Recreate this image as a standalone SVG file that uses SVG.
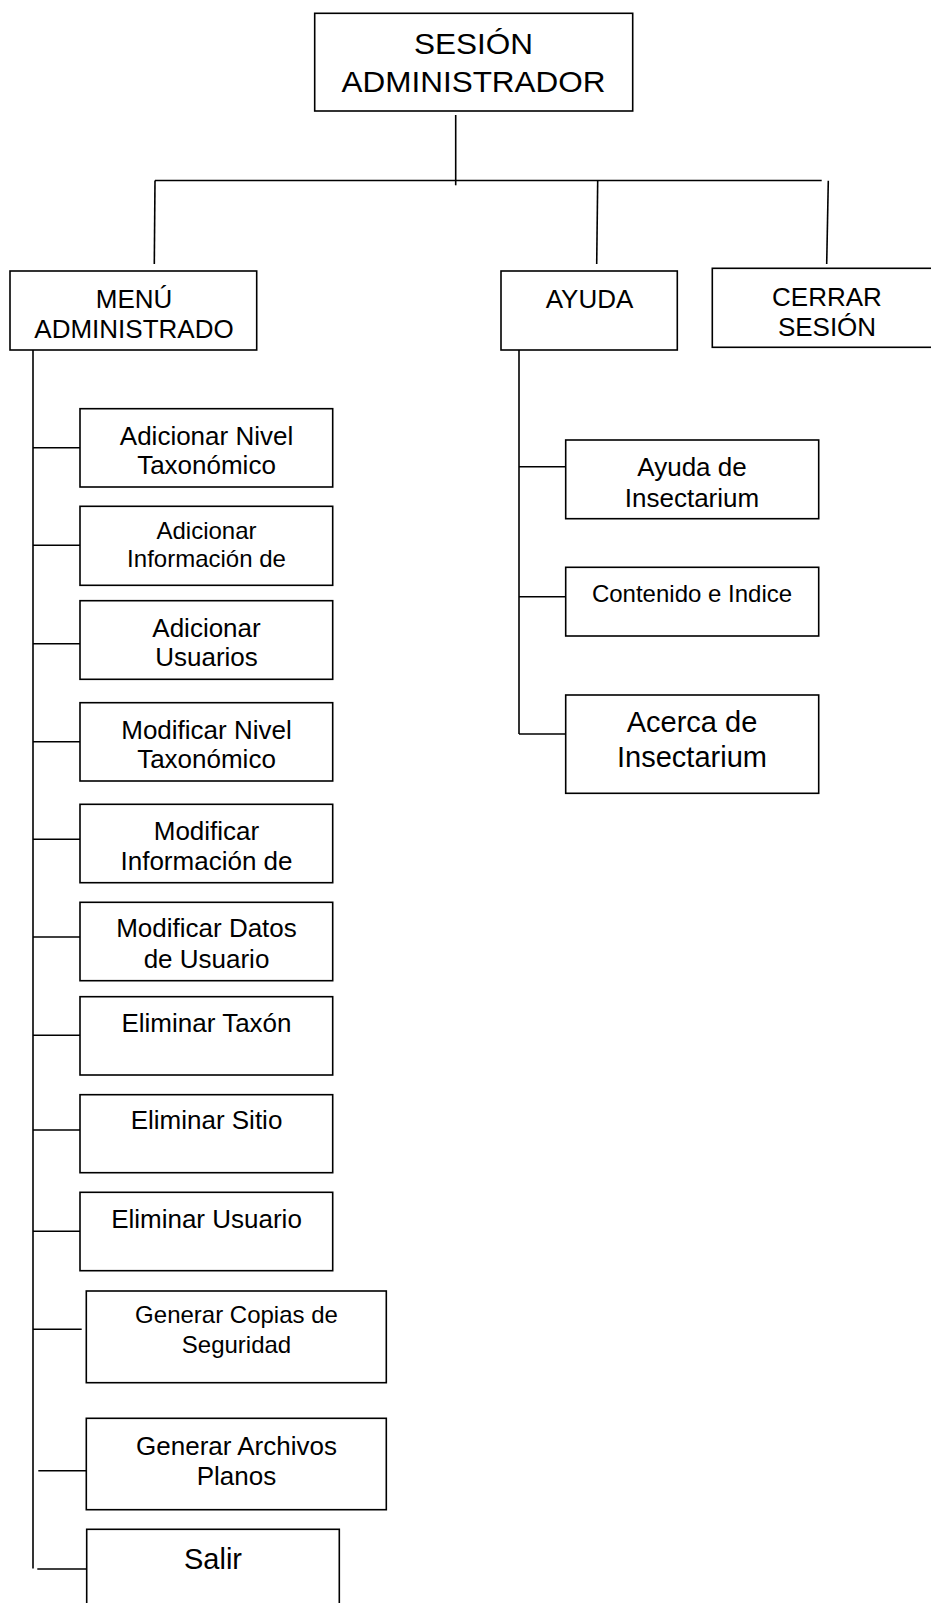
<svg xmlns="http://www.w3.org/2000/svg" width="931" height="1603" viewBox="0 0 931 1603">
  <style>
    .box { fill: #ffffff; stroke: #000000; stroke-width: 1.6; }
    .wire { fill: none; stroke: #000000; stroke-width: 1.6; }
    text { font-family: "Liberation Sans", Arial, sans-serif; fill: #000000; text-anchor: middle; }
    .t30 { font-size: 30px; }
    .t29 { font-size: 29px; }
    .t26 { font-size: 26px; }
    .t24 { font-size: 24px; }
  </style>
  <rect x="0" y="0" width="931" height="1603" fill="#ffffff"/>

  <!-- connectors -->
  <g id="connectors" class="wire">
    <!-- root trunk and top bus -->
    <line x1="455.7" y1="115" x2="455.7" y2="185.3"/>
    <line x1="155" y1="180.5" x2="821.7" y2="180.5"/>
    <line x1="155" y1="180.5" x2="154.3" y2="264"/>
    <line x1="597.7" y1="180.5" x2="596.7" y2="264"/>
    <line x1="828.3" y1="180.7" x2="826.7" y2="264"/>
    <!-- admin menu spine -->
    <line x1="33" y1="350" x2="33" y2="1568.5"/>
    <line x1="33" y1="447.7" x2="80" y2="447.7"/>
    <line x1="33" y1="545.3" x2="80" y2="545.3"/>
    <line x1="33" y1="643.7" x2="80" y2="643.7"/>
    <line x1="33" y1="741.7" x2="80" y2="741.7"/>
    <line x1="33" y1="839.3" x2="80" y2="839.3"/>
    <line x1="33" y1="937" x2="80" y2="937"/>
    <line x1="33" y1="1035.3" x2="80" y2="1035.3"/>
    <line x1="33" y1="1130" x2="80" y2="1130"/>
    <line x1="33" y1="1231.3" x2="80" y2="1231.3"/>
    <line x1="33" y1="1329.3" x2="81.7" y2="1329.3"/>
    <line x1="38.3" y1="1470.7" x2="86.3" y2="1470.7"/>
    <line x1="37.3" y1="1569" x2="86.7" y2="1569"/>
    <!-- help spine -->
    <line x1="519" y1="350" x2="519" y2="734"/>
    <line x1="519" y1="466.7" x2="565.7" y2="466.7"/>
    <line x1="519" y1="596.7" x2="565.7" y2="596.7"/>
    <line x1="519" y1="734" x2="565.7" y2="734"/>
  </g>

  <!-- top level -->
  <g id="sesion-administrador">
    <rect class="box" x="314.7" y="13.3" width="318" height="97.7"/>
    <text class="t30" x="473.5" y="54" textLength="119" lengthAdjust="spacingAndGlyphs">SESIÓN</text>
    <text class="t30" x="473.5" y="92.3" textLength="264" lengthAdjust="spacingAndGlyphs">ADMINISTRADOR</text>
  </g>

  <g id="menu-administrado">
    <rect class="box" x="10" y="271" width="246.7" height="79"/>
    <text class="t26" x="134" y="307.7">MENÚ</text>
    <text class="t26" x="134" y="337.7">ADMINISTRADO</text>
  </g>

  <g id="ayuda">
    <rect class="box" x="501" y="271" width="176.3" height="79"/>
    <text class="t26" x="589.5" y="307.7">AYUDA</text>
  </g>

  <g id="cerrar-sesion">
    <rect class="box" x="712.3" y="268.3" width="230" height="79"/>
    <text class="t26" x="827" y="305.7">CERRAR</text>
    <text class="t26" x="827" y="335.7">SESIÓN</text>
  </g>

  <!-- admin menu items -->
  <g id="adicionar-nivel">
    <rect class="box" x="80" y="408.7" width="252.7" height="78.3"/>
    <text class="t26" x="206.5" y="445">Adicionar Nivel</text>
    <text class="t26" x="206.5" y="474.3">Taxonómico</text>
  </g>

  <g id="adicionar-informacion">
    <rect class="box" x="80" y="506.3" width="252.7" height="79"/>
    <text class="t24" x="206.5" y="539">Adicionar</text>
    <text class="t24" x="206.5" y="566.7">Información de</text>
  </g>

  <g id="adicionar-usuarios">
    <rect class="box" x="80" y="600.7" width="252.7" height="78.6"/>
    <text class="t26" x="206.5" y="636.7">Adicionar</text>
    <text class="t26" x="206.5" y="666">Usuarios</text>
  </g>

  <g id="modificar-nivel">
    <rect class="box" x="80" y="702.7" width="252.7" height="78.3"/>
    <text class="t26" x="206.5" y="739">Modificar Nivel</text>
    <text class="t26" x="206.5" y="768.3">Taxonómico</text>
  </g>

  <g id="modificar-informacion">
    <rect class="box" x="80" y="804.3" width="252.7" height="78.4"/>
    <text class="t26" x="206.5" y="840">Modificar</text>
    <text class="t26" x="206.5" y="870">Información de</text>
  </g>

  <g id="modificar-datos">
    <rect class="box" x="80" y="902.3" width="252.7" height="78.4"/>
    <text class="t26" x="206.5" y="937.3">Modificar Datos</text>
    <text class="t26" x="206.5" y="967.7">de Usuario</text>
  </g>

  <g id="eliminar-taxon">
    <rect class="box" x="80" y="996.7" width="252.7" height="78.3"/>
    <text class="t26" x="206.5" y="1031.7">Eliminar Taxón</text>
  </g>

  <g id="eliminar-sitio">
    <rect class="box" x="80" y="1094.7" width="252.7" height="78"/>
    <text class="t26" x="206.5" y="1129.3">Eliminar Sitio</text>
  </g>

  <g id="eliminar-usuario">
    <rect class="box" x="80" y="1192.3" width="252.7" height="78.4"/>
    <text class="t26" x="206.5" y="1228.3">Eliminar Usuario</text>
  </g>

  <g id="generar-copias">
    <rect class="box" x="86.3" y="1291" width="300" height="91.7"/>
    <text class="t24" x="236.5" y="1323.3">Generar Copias de</text>
    <text class="t24" x="236.5" y="1352.7">Seguridad</text>
  </g>

  <g id="generar-archivos">
    <rect class="box" x="86.3" y="1418.3" width="300" height="91.4"/>
    <text class="t26" x="236.5" y="1455">Generar Archivos</text>
    <text class="t26" x="236.5" y="1485">Planos</text>
  </g>

  <g id="salir">
    <rect class="box" x="86.7" y="1529.3" width="252.6" height="90"/>
    <text class="t29" x="213" y="1569">Salir</text>
  </g>

  <!-- help items -->
  <g id="ayuda-insectarium">
    <rect class="box" x="565.7" y="440" width="253" height="78.7"/>
    <text class="t26" x="692" y="476">Ayuda de</text>
    <text class="t26" x="692" y="506.7">Insectarium</text>
  </g>

  <g id="contenido-indice">
    <rect class="box" x="565.7" y="567.3" width="253" height="68.7"/>
    <text class="t24" x="692" y="601.7">Contenido e Indice</text>
  </g>

  <g id="acerca-de">
    <rect class="box" x="565.7" y="695" width="253" height="98.3"/>
    <text class="t29" x="692" y="731.7">Acerca de</text>
    <text class="t29" x="692" y="767.3">Insectarium</text>
  </g>
</svg>
